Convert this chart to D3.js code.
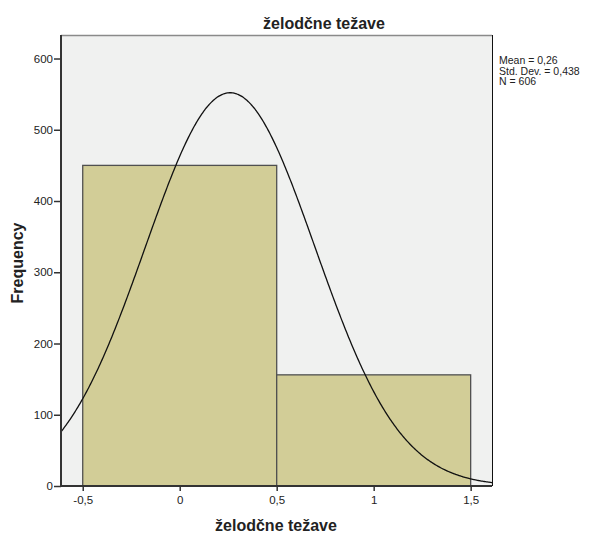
<!DOCTYPE html>
<html>
<head>
<meta charset="utf-8">
<script src="https://cdn.jsdelivr.net/npm/d3@7"></script>
<style>
  body { margin: 0; background: #fff; }
  text { font-family: "Liberation Sans", Arial, sans-serif; fill: #222; }
</style>
</head>
<body>
<div id="chart"></div>
<script>
// histogram bins and counts
const binStarts = [-0.5, 0.5];
const binEnds = [0.5, 1.5];
const counts = [450, 156];
const xTicks = [-0.5, 0, 0.5, 1, 1.5];
const yTicks = [0, 100, 200, 300, 400, 500, 600];
const statMean = 0.26, statSd = 0.438, statN = 606;
const statLines = ["Mean = 0,26", "Std. Dev. = 0,438", "N = 606"];

const W = 590, H = 538;
const plot = { left: 61, right: 492, top: 35, bottom: 486 };

const svg = d3.select("#chart").append("svg")
  .attr("width", W).attr("height", H);

const x = d3.scaleLinear().domain([-0.612, 1.61]).range([plot.left, plot.right]);
const y = d3.scaleLinear().domain([0, 633]).range([plot.bottom, plot.top]);

const fmt = d => String(d).replace(".", ",");

// plot background
svg.append("rect")
  .attr("x", plot.left).attr("y", plot.top)
  .attr("width", plot.right - plot.left).attr("height", plot.bottom - plot.top)
  .attr("fill", "#f0f1f0");

// bars
svg.selectAll(".bar").data(counts).enter().append("rect")
  .attr("class", "bar")
  .attr("x", (d, i) => x(binStarts[i]))
  .attr("y", d => y(d))
  .attr("width", (d, i) => x(binEnds[i]) - x(binStarts[i]))
  .attr("height", d => y(0) - y(d))
  .attr("fill", "#d2cd97")
  .attr("stroke", "#505050")
  .attr("stroke-width", 1.3);

// normal curve from the stats shown
svg.append("clipPath").attr("id", "plotclip").append("rect")
  .attr("x", plot.left).attr("y", plot.top)
  .attr("width", plot.right - plot.left).attr("height", plot.bottom - plot.top);
const binWidth = 1;
const dens = v => statN * binWidth * Math.exp(-0.5 * Math.pow((v - statMean) / statSd, 2)) / (statSd * Math.sqrt(2 * Math.PI));
const xs = d3.range(-0.62, 1.62, 0.005);
svg.append("path")
  .datum(xs)
  .attr("clip-path", "url(#plotclip)")
  .attr("fill", "none")
  .attr("stroke", "#111")
  .attr("stroke-width", 1.3)
  .attr("d", d3.line().x(d => x(d)).y(d => y(dens(d))).curve(d3.curveBasis));

// frame: top and right
svg.append("line").attr("x1", plot.left).attr("x2", plot.right)
  .attr("y1", plot.top + 0.5).attr("y2", plot.top + 0.5)
  .attr("stroke", "#8a8a8a").attr("stroke-width", 1.5);
svg.append("line").attr("x1", plot.right + 0.5).attr("x2", plot.right + 0.5)
  .attr("y1", plot.top).attr("y2", plot.bottom)
  .attr("stroke", "#111").attr("stroke-width", 1);

// axes
const yAxis = svg.append("g")
  .attr("transform", "translate(" + plot.left + ",0)")
  .call(d3.axisLeft(y).tickValues(yTicks).tickSize(7).tickPadding(1).tickFormat(d3.format("d")));
const xAxis = svg.append("g")
  .attr("transform", "translate(0," + plot.bottom + ")")
  .call(d3.axisBottom(x).tickValues(xTicks).tickSize(5).tickPadding(5).tickFormat(fmt));

[yAxis, xAxis].forEach(a => {
  a.select(".domain").attr("stroke", "#333").attr("stroke-width", 2);
  a.selectAll(".tick line").attr("stroke", "#333").attr("stroke-width", 1.5);
  a.selectAll(".tick text").style("font-size", "11.5px").attr("fill", "#222");
});
yAxis.select(".domain").attr("d", "M0," + plot.top + "V" + (plot.bottom + 1));
xAxis.select(".domain").attr("d", "M" + (plot.left - 1) + ",0H" + plot.right);

// titles
svg.append("text")
  .attr("x", 324).attr("y", 29)
  .attr("text-anchor", "middle")
  .style("font-size", "16px").style("font-weight", "bold")
  .text("želodčne težave");

svg.append("text")
  .attr("x", 276).attr("y", 531)
  .attr("text-anchor", "middle")
  .style("font-size", "16px").style("font-weight", "bold")
  .text("želodčne težave");

svg.append("text")
  .attr("transform", "translate(23,263) rotate(-90)")
  .attr("text-anchor", "middle")
  .style("font-size", "16px").style("font-weight", "bold")
  .text("Frequency");

// stats box
svg.selectAll(".stat").data(statLines).enter().append("text")
  .attr("class", "stat")
  .attr("x", 499)
  .attr("y", (d, i) => 64 + i * 10.5)
  .style("font-size", "10.5px")
  .text(d => d);
</script>
</body>
</html>
